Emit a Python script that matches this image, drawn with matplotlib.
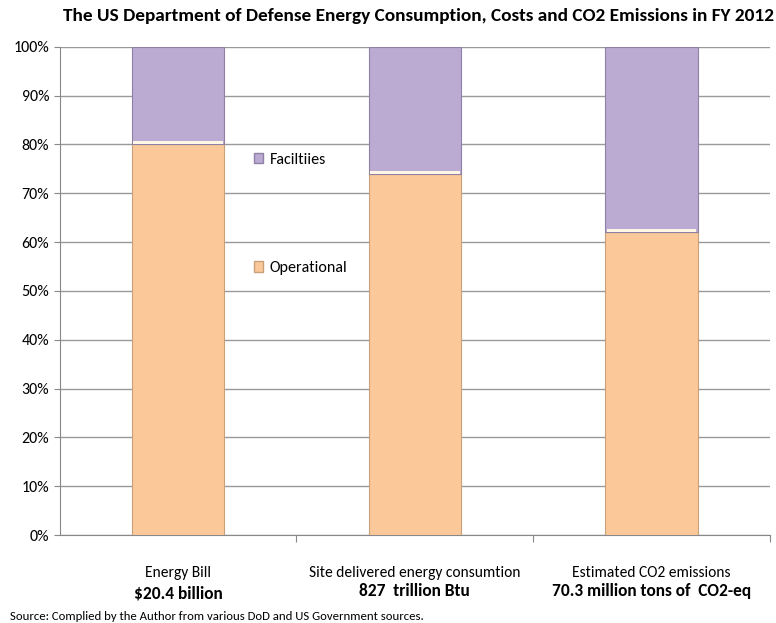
import numpy as np
import matplotlib.pyplot as plt
from matplotlib.patches import Patch
from matplotlib.ticker import PercentFormatter

plt.rcParams['font.family'] = ['Carlito', 'DejaVu Sans']

categories = ["Energy Bill", "Site delivered energy consumtion", "Estimated CO2 emissions"]
subtitles = ["$20.4 billion", "827  trillion Btu", "70.3 million tons of  CO2-eq"]
operational = [80, 74, 62]
facilities = [20, 26, 38]

c_op = "#FBC999"
c_fac = "#BBABD2"

fig = plt.figure(figsize=(7.76, 6.23), dpi=100)
ax = fig.add_axes([0.077, 0.141, 0.915, 0.784])

x = np.arange(len(categories))
w = 0.39
ax.bar(x, operational, w, color=c_op, edgecolor="#C9A07A", linewidth=0.8, zorder=3)
ax.bar(x, facilities, w, bottom=operational, color=c_fac, edgecolor="#8F80A6",
       linewidth=0.8, zorder=3)
# thin highlight where the segments meet
ax.bar(x, [0.6] * 3, w * 0.97, bottom=operational, color="#FFF6E6", linewidth=0, zorder=4)

ax.set_xlim(-0.5, 2.5)
ax.set_ylim(0, 100)
ax.set_yticks(np.arange(0, 101, 10))
ax.yaxis.set_major_formatter(PercentFormatter(decimals=0))
ax.grid(axis="y", color="#999999", linewidth=1, zorder=0)
ax.tick_params(axis="y", labelsize=11.5, length=4, color="#888888")
ax.set_xticks([0.5, 1.5, 2.5])
ax.set_xticklabels([])
ax.tick_params(axis="x", length=5, color="#888888")
for s in ["top", "right"]:
    ax.spines[s].set_visible(False)
ax.spines["left"].set_color("#888888")
ax.spines["bottom"].set_color("#888888")

for i in x:
    ax.text(i, -7.8, categories[i], ha="center", va="center", fontsize=11.2,
            clip_on=False)
    ax.text(i, -11.4 - (0.5 if i == 0 else 0), subtitles[i], ha="center", va="center",
            fontsize=12.5, fontweight="bold", clip_on=False)

handles = [Patch(facecolor=c_fac, edgecolor="#8F80A6"), Patch(facecolor=c_op, edgecolor="#C9A07A")]
ax.legend(handles, ["Faciltiies", "Operational"], loc="upper left",
          bbox_to_anchor=(0.253, 0.812), frameon=False, fontsize=11.5,
          labelspacing=5.9, handlelength=0.6, handleheight=0.6, handletextpad=0.4)

fig.text(0.539, 0.975, "The US Department of Defense Energy Consumption, Costs and CO2 Emissions in FY 2012",
         ha="center", va="center", fontsize=13.9, fontweight="bold")
fig.text(0.013, 0.011, "Source: Complied by the Author from various DoD and US Government sources.",
         ha="left", va="center", fontsize=9.2)

fig.savefig("out.png", dpi=100)
